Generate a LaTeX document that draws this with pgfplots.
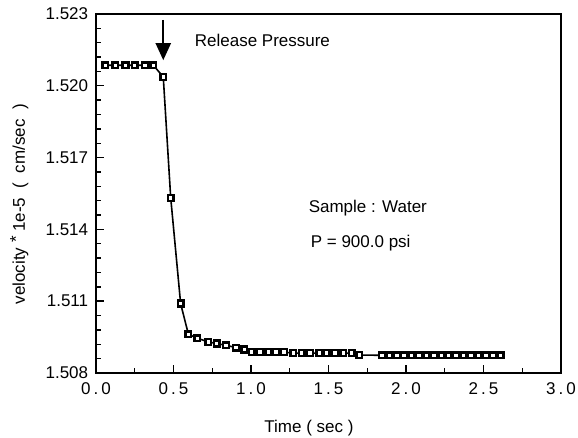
\documentclass[border=0pt]{standalone}
\usepackage{fontspec}
\setmainfont{Liberation Sans}
\usepackage{pgfplots}
\pgfplotsset{compat=1.18}
\usetikzlibrary{arrows.meta}

\begin{document}
\begin{tikzpicture}
\fontsize{17}{20}\selectfont
% fix the page to the reference size (1pt ~ 1px)
\useasboundingbox (-96pt,-65pt) rectangle (482pt,373pt);
\begin{axis}[
  scale only axis,
  width=465pt, height=359pt,
  xmin=0, xmax=3, ymin=1.508, ymax=1.523,
  xtick={0,0.5,1,1.5,2,2.5,3},
  xticklabels={0\kern3pt.\kern3pt0,0\kern3pt.\kern3pt5,1\kern3pt.\kern3pt0,1\kern3pt.\kern3pt5,2\kern3pt.\kern3pt0,2\kern3pt.\kern3pt5,3\kern3pt.\kern3pt0},
  ytick={1.508,1.511,1.514,1.517,1.520,1.523},
  yticklabels={1.508,1.511,1.514,1.517,1.520,1.523},
  minor x tick num=1, minor y tick num=4,
  tick align=inside, xtick pos=bottom, ytick pos=left,
  major tick length=8pt, minor tick length=5pt,
  every tick/.style={black, line width=1.4pt},
  axis line style={line width=1.8pt},
  yticklabel style={xshift=-2pt},
  xticklabel style={yshift=-4pt},
  xlabel={Time ( sec )},
  ylabel={velocity \raisebox{0.35ex}{*} 1e-5 \ ( \ cm/sec \ )},
  xlabel style={at={(axis description cs:0.458,-0.153)}, anchor=center},
  ylabel style={at={(axis description cs:-0.165,0.47)}, anchor=center},
  clip=false,
]
\addplot[black, line width=1.6pt, mark=square*,
  mark size=2.9pt, mark options={fill=white, line width=2.4pt, solid}]
  coordinates {
  (0.06,1.52086) (0.125,1.52086) (0.19,1.52086) (0.25,1.52086)
  (0.315,1.52086) (0.37,1.52086) (0.434,1.52037) (0.482,1.51532)
  (0.546,1.51090) (0.596,1.50962) (0.654,1.50945) (0.725,1.50930)
  (0.779,1.50923) (0.839,1.50916) (0.903,1.50906) (0.957,1.50898)
  (1.005,1.50887) (1.058,1.50887) (1.111,1.50887) (1.161,1.50887)
  (1.213,1.50887) (1.273,1.50883) (1.327,1.50883) (1.381,1.50883)
  (1.441,1.50883) (1.488,1.50883) (1.542,1.50883) (1.595,1.50883)
  (1.650,1.50883) (1.699,1.50875)
  (1.845,1.50874) (1.893,1.50874) (1.941,1.50874) (1.988,1.50874)
  (2.036,1.50874) (2.084,1.50874) (2.132,1.50874) (2.180,1.50874)
  (2.228,1.50874) (2.275,1.50874) (2.323,1.50874) (2.371,1.50874)
  (2.419,1.50874) (2.467,1.50874) (2.515,1.50874) (2.562,1.50874)
  (2.610,1.50874)
  };
\draw[line width=2.2pt, -{Triangle[width=15pt,length=17pt]}]
  (axis cs:0.434,1.52275) -- (axis cs:0.434,1.52107);
\node[anchor=west] at (axis cs:0.60,1.52191) {Release Pressure};
\node[anchor=west] at (axis cs:1.335,1.51487) {Sample : Water};
\node[anchor=west] at (axis cs:1.348,1.51342) {P = 900.0 psi};
\end{axis}
\end{tikzpicture}
\end{document}
